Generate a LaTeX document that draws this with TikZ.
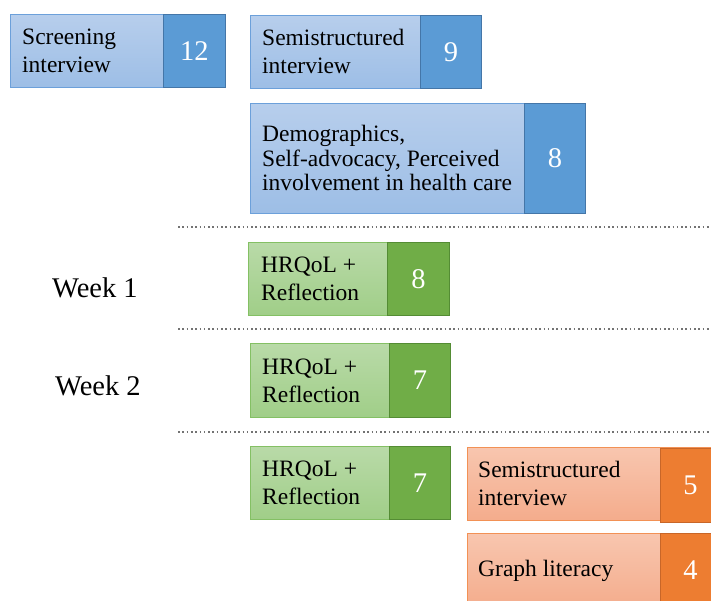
\documentclass[tikz,border=0pt]{standalone}
\usepackage{fontspec}
\setmainfont{Liberation Serif}
\newfontfamily\tnr{Liberation Serif}
\definecolor{blueT}{RGB}{183,206,236}
\definecolor{blueB}{RGB}{157,190,230}
\definecolor{blueD}{RGB}{91,155,213}
\definecolor{blueE}{RGB}{108,160,218}
\definecolor{blueDE}{RGB}{68,118,168}
\definecolor{greenT}{RGB}{185,218,168}
\definecolor{greenB}{RGB}{160,206,136}
\definecolor{greenD}{RGB}{112,173,71}
\definecolor{greenE}{RGB}{132,192,100}
\definecolor{greenDE}{RGB}{84,140,52}
\definecolor{orangeT}{RGB}{248,198,175}
\definecolor{orangeB}{RGB}{244,172,140}
\definecolor{orangeD}{RGB}{237,125,49}
\definecolor{orangeE}{RGB}{242,145,85}
\definecolor{orangeDE}{RGB}{200,102,40}
\definecolor{dotgray}{RGB}{115,115,115}
\begin{document}
\begin{tikzpicture}[x=1pt,y=-1pt,
  lightbox/.style n args={3}{draw=#3, line width=0.9pt, top color=#1, bottom color=#2,
     inner sep=0pt, anchor=north west},
  darkbox/.style n args={2}{draw=#2, line width=0.9pt, fill=#1, inner sep=0pt, anchor=north west},
  bluel/.style={lightbox={blueT}{blueB}{blueE}},
  blued/.style={darkbox={blueD}{blueDE}},
  greenl/.style={lightbox={greenT}{greenB}{greenE}},
  greend/.style={darkbox={greenD}{greenDE}},
  orangel/.style={lightbox={orangeT}{orangeB}{orangeE}},
  oranged/.style={darkbox={orangeD}{orangeDE}},
  txt/.style={font=\tnr\fontsize{23.5}{28}\selectfont, align=left, anchor=west, inner sep=0pt, text=black},
  num/.style={font=\tnr\fontsize{28.5}{30}\selectfont, text=white, inner sep=0pt},
  week/.style={font=\tnr\fontsize{28.5}{30}\selectfont, anchor=base west, inner sep=0pt},
  sep/.style={draw=dotgray, line width=1.6pt, dash pattern=on 1.6pt off 2.7pt}
]
\useasboundingbox (0,0) rectangle (711,601);
\clip (0,0) rectangle (711,601);

% blue row 1
\node[bluel, minimum width=215pt, minimum height=73pt] (scr) at (10,14) {};
\node[blued, minimum width=62pt, minimum height=73pt] (scrN) at (163,14) {};
\node[txt] (scrT) at ([xshift=12pt]scr.west) {Screening\\interview};
\node[num] (scrV) at (scrN.center) {12};

\node[bluel, minimum width=231pt, minimum height=73pt] (semi1) at (250,15) {};
\node[blued, minimum width=61pt, minimum height=73pt] (semi1N) at (420,15) {};
\node[txt] (semi1T) at ([xshift=12pt]semi1.west) {Semistructured\\interview};
\node[num] (semi1V) at (semi1N.center) {9};

% blue row 2
\node[bluel, minimum width=335pt, minimum height=110pt] (demo) at (250,103) {};
\node[blued, minimum width=61pt, minimum height=110pt] (demoN) at (524,103) {};
\node[txt, font=\tnr\fontsize{23.5}{24.5}\selectfont] (demoT) at ([xshift=12pt]demo.west) {Demographics,\\Self-advocacy, Perceived\\involvement in health care};
\node[num] (demoV) at (demoN.center) {8};

% separators
\coordinate (s1a) at (178,227); \coordinate (s1b) at (711,227);
\coordinate (s2a) at (178,329); \coordinate (s2b) at (711,329);
\coordinate (s3a) at (178,432); \coordinate (s3b) at (711,432);
\draw[sep] (s1a) -- (s1b);
\draw[sep] (s2a) -- (s2b);
\draw[sep] (s3a) -- (s3b);

% week labels
\node[week] (w1) at (52,298) {Week 1};
\node[week] (w2) at (55,395) {Week 2};

% green boxes
\node[greenl, minimum width=201pt, minimum height=73pt] (g1) at (248,242) {};
\node[greend, minimum width=62pt, minimum height=73pt] (g1N) at (387,242) {};
\node[txt] (g1T) at ([xshift=13pt]g1.west) {HRQoL +\\Reflection};
\node[num] (g1V) at (g1N.center) {8};

\node[greenl, minimum width=200pt, minimum height=74pt] (g2) at (250,343) {};
\node[greend, minimum width=61pt, minimum height=74pt] (g2N) at (389,343) {};
\node[txt] (g2T) at ([xshift=12pt]g2.west) {HRQoL +\\Reflection};
\node[num] (g2V) at (g2N.center) {7};

\node[greenl, minimum width=200pt, minimum height=73pt] (g3) at (250,446) {};
\node[greend, minimum width=61pt, minimum height=73pt] (g3N) at (389,446) {};
\node[txt] (g3T) at ([xshift=12pt]g3.west) {HRQoL +\\Reflection};
\node[num] (g3V) at (g3N.center) {7};

% orange boxes
\node[orangel, minimum width=260pt, minimum height=73pt] (o1) at (467,447) {};
\node[oranged, minimum width=60pt, minimum height=74pt] (o1N) at (660,448) {};
\node[txt] (o1T) at ([xshift=11pt]o1.west) {Semistructured\\interview};
\node[num] (o1V) at (o1N.center) {5};

\node[orangel, minimum width=260pt, minimum height=74pt] (o2) at (467,533) {};
\node[oranged, minimum width=60pt, minimum height=74pt] (o2N) at (660,533) {};
\node[txt] (o2T) at ([xshift=11pt]o2.west) {Graph literacy};
\node[num] (o2V) at (o2N.center) {4};
\end{tikzpicture}
\end{document}
